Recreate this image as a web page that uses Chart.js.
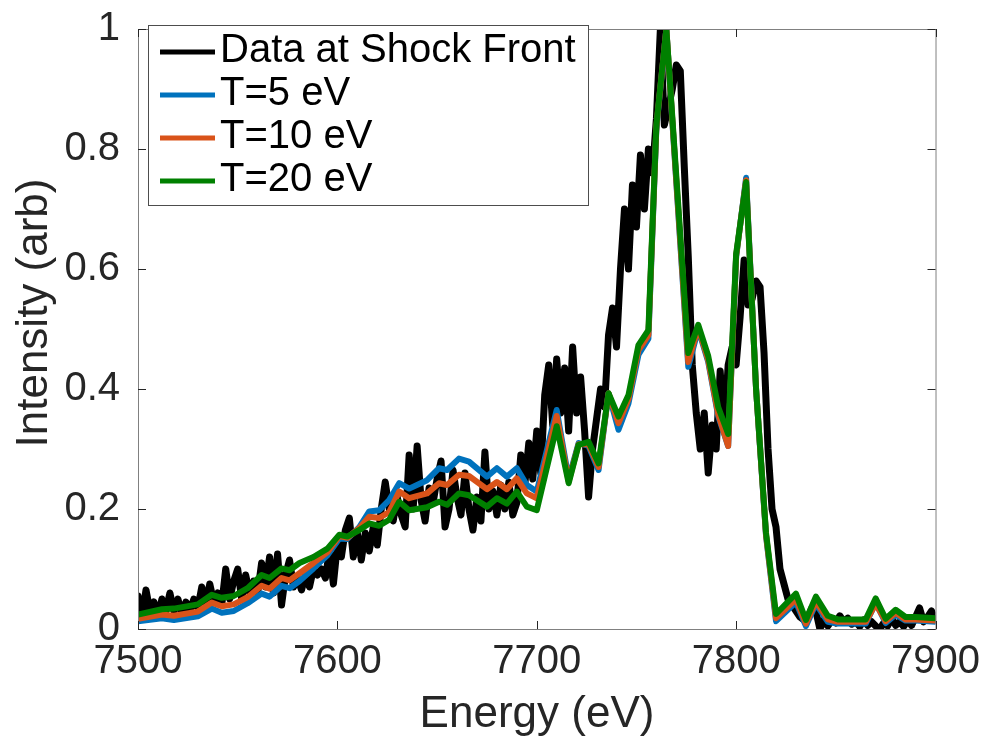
<!DOCTYPE html>
<html>
<head>
<meta charset="utf-8">
<title>Intensity vs Energy</title>
<script src="https://cdn.jsdelivr.net/npm/chart.js@4.4.1/dist/chart.umd.min.js"></script>
<style>
  html, body { margin: 0; padding: 0; background: #fff; }
  #wrap { width: 989px; height: 738px; }
</style>
</head>
<body>
<div id="wrap"><canvas id="spectrum" width="989" height="738"></canvas></div>
<script>
// measured spectrum (2 eV steps)
var dataEnergy = [
  7500, 7502, 7504, 7506, 7508, 7510, 7512, 7514, 7516, 7518,
  7520, 7522, 7524, 7526, 7528, 7530, 7532, 7534, 7536, 7538,
  7540, 7542, 7544, 7546, 7548, 7550, 7552, 7554, 7556, 7558,
  7560, 7562, 7564, 7566, 7568, 7570, 7572, 7574, 7576, 7578,
  7580, 7582, 7584, 7586, 7588, 7590, 7592, 7594, 7596, 7598,
  7600, 7602, 7604, 7606, 7608, 7610, 7612, 7614, 7616, 7618,
  7620, 7622, 7624, 7626, 7628, 7630, 7632, 7634, 7636, 7638,
  7640, 7642, 7644, 7646, 7648, 7650, 7652, 7654, 7656, 7658,
  7660, 7662, 7664, 7666, 7668, 7670, 7672, 7674, 7676, 7678,
  7680, 7682, 7684, 7686, 7688, 7690, 7692, 7694, 7696, 7698,
  7700, 7702, 7704, 7706, 7708, 7710, 7712, 7714, 7716, 7718,
  7720, 7722, 7724, 7726, 7728, 7730, 7732, 7734, 7736, 7738,
  7740, 7742, 7744, 7746, 7748, 7750, 7752, 7754, 7756, 7758,
  7760, 7762, 7764, 7766, 7768, 7770, 7772, 7774, 7776, 7778,
  7780, 7782, 7784, 7786, 7788, 7790, 7792, 7794, 7796, 7798,
  7800, 7802, 7804, 7806, 7808, 7810, 7812, 7814, 7816, 7818,
  7820, 7822, 7824, 7826, 7828, 7830, 7832, 7834, 7836, 7838,
  7840, 7842, 7844, 7846, 7848, 7850, 7852, 7854, 7856, 7858,
  7860, 7862, 7864, 7866, 7868, 7870, 7872, 7874, 7876, 7878,
  7880, 7882, 7884, 7886, 7888, 7890, 7892, 7894, 7896, 7898,
  7900
];
var shockFront = [
  0.055, 0.02, 0.065, 0.03, 0.045, 0.02, 0.05, 0.03, 0.06, 0.03,
  0.05, 0.025, 0.045, 0.03, 0.05, 0.035, 0.07, 0.04, 0.075, 0.045,
  0.06, 0.04, 0.10, 0.05, 0.08, 0.10, 0.05, 0.09, 0.06, 0.08,
  0.06, 0.11, 0.07, 0.12, 0.06, 0.125, 0.04, 0.09, 0.115, 0.07,
  0.085, 0.065, 0.09, 0.07, 0.10, 0.09, 0.10, 0.085, 0.13, 0.075,
  0.14, 0.12, 0.165, 0.185, 0.12, 0.16, 0.115, 0.16, 0.13, 0.17,
  0.14, 0.20, 0.245, 0.20, 0.18, 0.22, 0.19, 0.17, 0.29, 0.20,
  0.305, 0.215, 0.18, 0.235, 0.21, 0.25, 0.28, 0.17, 0.20, 0.265,
  0.22, 0.19, 0.26, 0.20, 0.165, 0.22, 0.18, 0.295, 0.20, 0.23,
  0.19, 0.24, 0.20, 0.245, 0.19, 0.21, 0.29, 0.24, 0.31, 0.25,
  0.33, 0.26, 0.39, 0.44, 0.34, 0.45, 0.36, 0.435, 0.33, 0.47,
  0.36, 0.42, 0.33, 0.22, 0.30, 0.35, 0.40, 0.37, 0.49, 0.535,
  0.47, 0.60, 0.70, 0.60, 0.74, 0.67, 0.79, 0.70, 0.80, 0.76,
  0.85, 1.00, 0.84, 0.87, 0.90, 0.94, 0.93, 0.77, 0.62, 0.44,
  0.36, 0.30, 0.36, 0.26, 0.34, 0.30, 0.43, 0.33, 0.44, 0.47,
  0.44, 0.52, 0.615, 0.54, 0.55, 0.58, 0.57, 0.46, 0.30, 0.20,
  0.17, 0.10, 0.075, 0.05, 0.04, 0.03, 0.02, 0.015, 0.02, 0.035,
  0.03, 0.0, 0.015, 0.005, 0.015, 0.01, 0.022, 0.012, 0.018, 0.008,
  0.012, 0.004, 0.015, 0.006, 0.012, 0.005, 0.0, 0.01, 0.005, 0.018,
  0.006, 0.012, 0.004, 0.014, 0.006, 0.02, 0.035, 0.012, 0.02, 0.03,
  0.015
];

// simulated spectra
var modelEnergy = [
  7500, 7512, 7518, 7530, 7537, 7542, 7548, 7555, 7562, 7566,
  7572, 7576, 7581, 7588, 7595, 7601, 7605, 7611, 7616, 7621,
  7626, 7631, 7636, 7645, 7651, 7655, 7661, 7666, 7675, 7680,
  7685, 7690, 7695, 7700, 7710, 7716, 7721, 7726, 7731, 7736,
  7741, 7746, 7751, 7756, 7760, 7765, 7776, 7781, 7786, 7791,
  7796, 7800, 7805, 7810, 7815, 7820, 7830, 7835, 7840, 7846,
  7851, 7865, 7870, 7875, 7880, 7885, 7890, 7900
];
var t5 = [
  0.013, 0.018, 0.015, 0.021, 0.034, 0.027, 0.030, 0.043, 0.059, 0.054,
  0.072, 0.068, 0.080, 0.101, 0.123, 0.151, 0.150, 0.170, 0.196, 0.198,
  0.215, 0.243, 0.234, 0.248, 0.268, 0.265, 0.284, 0.279, 0.254, 0.268,
  0.254, 0.268, 0.240, 0.229, 0.365, 0.250, 0.310, 0.305, 0.265, 0.393,
  0.332, 0.376, 0.457, 0.484, 0.835, 1.000, 0.437, 0.500, 0.445, 0.355,
  0.305, 0.620, 0.752, 0.400, 0.155, 0.013, 0.045, 0.005, 0.042, 0.012,
  0.009, 0.009, 0.044, 0.010, 0.024, 0.014, 0.014, 0.012
];
var t10 = [
  0.017, 0.024, 0.022, 0.029, 0.044, 0.038, 0.041, 0.053, 0.072, 0.067,
  0.085, 0.081, 0.093, 0.110, 0.128, 0.155, 0.152, 0.168, 0.187, 0.185,
  0.195, 0.229, 0.218, 0.226, 0.243, 0.240, 0.257, 0.255, 0.233, 0.245,
  0.233, 0.251, 0.226, 0.218, 0.355, 0.246, 0.308, 0.308, 0.270, 0.393,
  0.343, 0.383, 0.465, 0.490, 0.838, 1.000, 0.445, 0.503, 0.448, 0.358,
  0.305, 0.622, 0.748, 0.400, 0.157, 0.018, 0.050, 0.009, 0.046, 0.016,
  0.012, 0.012, 0.042, 0.013, 0.027, 0.016, 0.016, 0.014
];
var t20 = [
  0.024, 0.033, 0.034, 0.041, 0.057, 0.052, 0.055, 0.068, 0.090, 0.085,
  0.101, 0.098, 0.110, 0.120, 0.134, 0.157, 0.154, 0.165, 0.176, 0.172,
  0.182, 0.212, 0.198, 0.203, 0.212, 0.207, 0.226, 0.223, 0.204, 0.218,
  0.209, 0.229, 0.204, 0.198, 0.338, 0.243, 0.307, 0.312, 0.276, 0.393,
  0.354, 0.390, 0.473, 0.498, 0.840, 1.000, 0.460, 0.507, 0.455, 0.370,
  0.325, 0.625, 0.745, 0.400, 0.160, 0.025, 0.059, 0.015, 0.054, 0.022,
  0.016, 0.016, 0.051, 0.017, 0.032, 0.020, 0.020, 0.018
];

var xTicks = [7500, 7600, 7700, 7800, 7900];
var yTicks = [0, 0.2, 0.4, 0.6, 0.8, 1];

var FONT = "'Liberation Sans', Arial, Helvetica, sans-serif";
var TEXT = '#262626';

function pts(xs, ys) {
    return xs.map(function (e, i) { return { x: e, y: ys[i] }; });
}

// axes box with inward ticks, axis titles and the boxed legend
var matlabAxes = {
    id: 'matlabAxes',
    afterDatasetsDraw: function (chart) {
        var ctx = chart.ctx, a = chart.chartArea;
        var xs = chart.scales.x, ys = chart.scales.y;
        ctx.save();
        ctx.strokeStyle = '#808080';
        ctx.lineWidth = 1;
        ctx.strokeRect(a.left + 0.5, a.top + 0.5, a.right - a.left, a.bottom - a.top);
        ctx.strokeStyle = '#262626';
        ctx.beginPath();
        xTicks.forEach(function (v) {
            var px = Math.round(xs.getPixelForValue(v)) + 0.5;
            ctx.moveTo(px, a.bottom); ctx.lineTo(px, a.bottom - 8);
            ctx.moveTo(px, a.top); ctx.lineTo(px, a.top + 8);
        });
        yTicks.forEach(function (v) {
            var py = Math.round(ys.getPixelForValue(v)) + 0.5;
            ctx.moveTo(a.left, py); ctx.lineTo(a.left + 8, py);
            ctx.moveTo(a.right, py); ctx.lineTo(a.right - 8, py);
        });
        ctx.stroke();
        ctx.restore();
    },
    afterDraw: function (chart) {
        var ctx = chart.ctx;
        ctx.save();
        // axis titles
        ctx.fillStyle = TEXT;
        ctx.font = '44px ' + FONT;
        ctx.textAlign = 'center';
        ctx.textBaseline = 'alphabetic';
        ctx.fillText('Energy (eV)', 537, 727);
        ctx.translate(47, 313);
        ctx.rotate(-Math.PI / 2);
        ctx.fillText('Intensity (arb)', 0, 0);
        ctx.restore();

        // legend
        ctx.save();
        ctx.fillStyle = '#fff';
        ctx.fillRect(148, 25, 440, 180);
        ctx.strokeStyle = '#4d4d4d';
        ctx.lineWidth = 1;
        ctx.strokeRect(148.5, 25.5, 440, 180);
        var baselines = [62, 105, 148, 191];
        ctx.font = '40px ' + FONT;
        ctx.textAlign = 'left';
        ctx.textBaseline = 'alphabetic';
        chart.data.datasets.forEach(function (ds, i) {
            var ly = baselines[i] - 10;
            ctx.strokeStyle = ds.borderColor;
            ctx.lineWidth = 5;
            ctx.beginPath();
            ctx.moveTo(160, ly); ctx.lineTo(215, ly);
            ctx.stroke();
            ctx.fillStyle = '#000';
            ctx.fillText(ds.label, 220, baselines[i]);
        });
        ctx.restore();
    }
};

var ctx = document.getElementById('spectrum');
var spectrumChart = new Chart(ctx, {
    type: 'line',
    data: {
        datasets: [
            { label: 'Data at Shock Front', data: pts(dataEnergy, shockFront), borderColor: '#000000', borderWidth: 7, order: 4 },
            { label: 'T=5 eV', data: pts(modelEnergy, t5), borderColor: '#0072BD', borderWidth: 6, order: 3 },
            { label: 'T=10 eV', data: pts(modelEnergy, t10), borderColor: '#D95319', borderWidth: 6, order: 2 },
            { label: 'T=20 eV', data: pts(modelEnergy, t20), borderColor: '#008000', borderWidth: 6, order: 1 }
        ]
    },
    options: {
        responsive: false,
        animation: false,
        devicePixelRatio: 1,
        layout: { padding: { top: 29, right: 53, bottom: 0, left: 0 } },
        elements: {
            point: { radius: 0 },
            line: { tension: 0, fill: false, borderJoinStyle: 'round', borderCapStyle: 'round' }
        },
        plugins: {
            legend: { display: false },
            tooltip: { enabled: false }
        },
        scales: {
            x: {
                type: 'linear',
                min: 7500,
                max: 7900,
                grid: { display: false, drawTicks: false },
                border: { display: false },
                afterBuildTicks: function (scale) {
                    scale.ticks = xTicks.map(function (v) { return { value: v }; });
                },
                afterFit: function (scale) { scale.height = 109; },
                ticks: {
                    padding: 9,
                    color: TEXT,
                    font: { family: FONT, size: 40 },
                    maxRotation: 0,
                    callback: function (v) { return String(v); }
                }
            },
            y: {
                min: 0,
                max: 1,
                grid: { display: false, drawTicks: false },
                border: { display: false },
                afterBuildTicks: function (scale) {
                    scale.ticks = yTicks.map(function (v) { return { value: v }; });
                },
                afterFit: function (scale) {
                    scale.width = 138;
                    // keep the plot box where the figure has it
                    scale.paddingTop = 20;
                    scale.paddingBottom = 20;
                },
                ticks: {
                    padding: 18,
                    color: TEXT,
                    font: { family: FONT, size: 40 },
                    callback: function (v) { return String(v); }
                }
            }
        }
    },
    plugins: [matlabAxes]
});
</script>
</body>
</html>
